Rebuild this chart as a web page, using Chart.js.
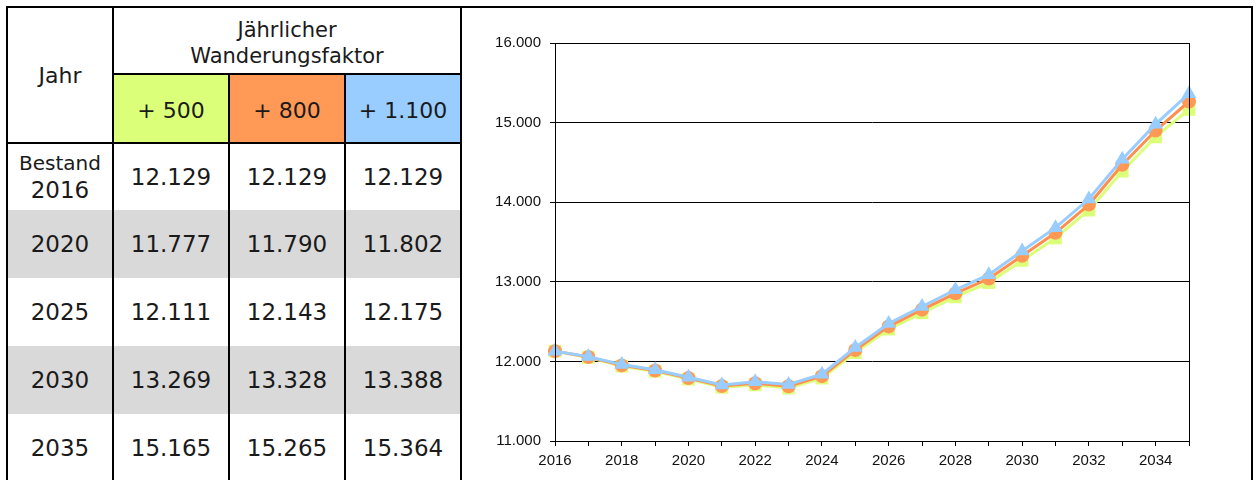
<!DOCTYPE html>
<html>
<head>
<meta charset="utf-8">
<script src="https://cdn.jsdelivr.net/npm/chart.js@4.4.1/dist/chart.umd.min.js"></script>
<style>
  html, body { margin: 0; padding: 0; background: #fff; width: 1256px; height: 480px; overflow: hidden; }
  #frame { position: absolute; left: 6px; top: 6px; width: 1247px; height: 500px; border: 2px solid #000; box-sizing: border-box; }
  #tbl { position: absolute; left: 6px; top: 6px; border-collapse: collapse; table-layout: fixed;
         font-family: "DejaVu Sans", sans-serif; color: #1a1a1a; }
  #tbl td { border-left: 2px solid #000; border-right: 2px solid #000; padding: 0; text-align: center; vertical-align: middle; }
  #tbl td.num { font-size: 23px; }
  #tbl td.lab { font-size: 23px; }
  #tbl td.best { font-size: 20px; line-height: 27px; }
  #tbl .grey td { background: #d9d9d9; }
  #chartBox { position: absolute; left: 462px; top: 8px; width: 788px; height: 472px; }
</style>
</head>
<body>
<div id="frame"></div>
<table id="tbl"></table>
<div id="chartBox"><canvas id="chart"></canvas></div>
<script>
// chart data
const years = [2016, 2017, 2018, 2019, 2020, 2021, 2022, 2023, 2024, 2025,
               2026, 2027, 2028, 2029, 2030, 2031, 2032, 2033, 2034, 2035];
const plus500 = [12129, 12050, 11940, 11875, 11777, 11675, 11705, 11665, 11790, 12111,
                 12405, 12610, 12810, 12990, 13269, 13550, 13900, 14390, 14820, 15165];
const plus800 = [12129, 12055, 11950, 11885, 11790, 11690, 11725, 11688, 11815, 12143,
                 12440, 12650, 12855, 13040, 13328, 13615, 13970, 14470, 14900, 15265];
const plus1100 = [12129, 12060, 11960, 11895, 11802, 11705, 11745, 11710, 11840, 12175,
                  12475, 12690, 12900, 13090, 13388, 13680, 14040, 14540, 14980, 15364];

// table data
const seriesNames = ['+ 500', '+ 800', '+ 1.100'];
const seriesColors = ['#dcff79', '#ff9955', '#99ccff'];
const rowLabels = ['Bestand<br>2016', '2020', '2025', '2030', '2035'];
const table500 = [12129, 11777, 12111, 13269, 15165];
const table800 = [12129, 11790, 12143, 13328, 15265];
const table1100 = [12129, 11802, 12175, 13388, 15364];

function fmt(n) {
  return String(n).replace(/\B(?=(\d{3})+(?!\d))/g, '.');
}

// build table
const colW = [106, 116, 116, 116];
const rowH = [68, 69, 67, 68, 68, 68, 68];
let html = '<colgroup>' + colW.map(w => '<col style="width:' + w + 'px">').join('') + '</colgroup>';
html += '<tr style="height:' + rowH[0] + 'px">' +
  '<td rowspan="2" class="lab" style="font-size:22px;padding-top:3px;border-bottom:2px solid #000">Jahr</td>' +
  '<td colspan="3" style="font-size:21px;line-height:26px;padding-top:6px;border-bottom:2px solid #000">Jährlicher<br>Wanderungsfaktor</td></tr>';
html += '<tr style="height:' + rowH[1] + 'px">' + seriesNames.map((s, i) =>
  '<td class="num" style="font-size:22px;padding-top:4px;background:' + seriesColors[i] + ';border-bottom:2px solid #000">' + s + '</td>').join('') + '</tr>';
rowLabels.forEach((lab, r) => {
  const cls = (r === 1 || r === 3) ? ' class="grey"' : '';
  html += '<tr' + cls + ' style="height:' + rowH[r + 2] + 'px">' +
    '<td class="' + (r === 0 ? 'best' : 'lab') + '">' + (r === 0 ? 'Bestand<br><span style="font-size:23px">2016</span>' : lab) + '</td>' +
    '<td class="num">' + fmt(table500[r]) + '</td>' +
    '<td class="num">' + fmt(table800[r]) + '</td>' +
    '<td class="num">' + fmt(table1100[r]) + '</td></tr>';
});
document.getElementById('tbl').innerHTML = html;

// frame around plot area
const boxPlugin = {
  id: 'box',
  afterDatasetsDraw(chart) {
    const a = chart.chartArea, ctx = chart.ctx;
    ctx.save();
    ctx.strokeStyle = '#000';
    ctx.lineWidth = 1;
    ctx.strokeRect(Math.round(a.left) + 0.5, Math.round(a.top) + 0.5,
                   Math.round(a.right - a.left), Math.round(a.bottom - a.top));
    ctx.restore();
  }
};

const tickFont = { family: 'Liberation Sans, Arial, sans-serif', size: 15 };

new Chart(document.getElementById('chart'), {
  type: 'line',
  data: {
    labels: years.map(String),
    datasets: [
      { label: '+ 500', data: plus500, borderColor: '#dcff79', backgroundColor: '#dcff79',
        pointStyle: 'rect', pointRadius: 9, pointBorderWidth: 0, borderWidth: 3, order: 3 },
      { label: '+ 800', data: plus800, borderColor: '#ff8f4f', backgroundColor: '#ff9955',
        pointStyle: 'circle', pointRadius: 7, pointBorderWidth: 0, borderWidth: 3, order: 2 },
      { label: '+ 1.100', data: plus1100, borderColor: '#99ccff', backgroundColor: '#99ccff',
        pointStyle: 'triangle', pointRadius: 8.5, pointBorderWidth: 0, borderWidth: 3, order: 1 }
    ]
  },
  options: {
    responsive: true,
    maintainAspectRatio: false,
    animation: false,
    layout: { padding: { left: 0, right: 61, top: 35, bottom: 0 } },
    plugins: { legend: { display: false }, tooltip: { enabled: false } },
    elements: { line: { tension: 0 } },
    scales: {
      x: {
        offset: false,
        grid: { drawOnChartArea: false, drawTicks: true, tickLength: 5, color: '#000' },
        border: { color: '#000', width: 1 },
        ticks: {
          autoSkip: false, maxRotation: 0, padding: 6, color: '#111', font: tickFont,
          callback: function (v, i) { return i % 2 === 0 ? years[i] : ''; }
        },
        afterFit: function (s) { s.height = 39; }
      },
      y: {
        min: 11000, max: 16000,
        grid: { color: '#000', lineWidth: 1, tickLength: 5 },
        border: { color: '#000', width: 1 },
        ticks: { stepSize: 1000, padding: 9, color: '#111', font: tickFont,
                 callback: v => fmt(v) },
        afterFit: function (s) { s.width = 93; }
      }
    }
  },
  plugins: [boxPlugin]
});
</script>
</body>
</html>
